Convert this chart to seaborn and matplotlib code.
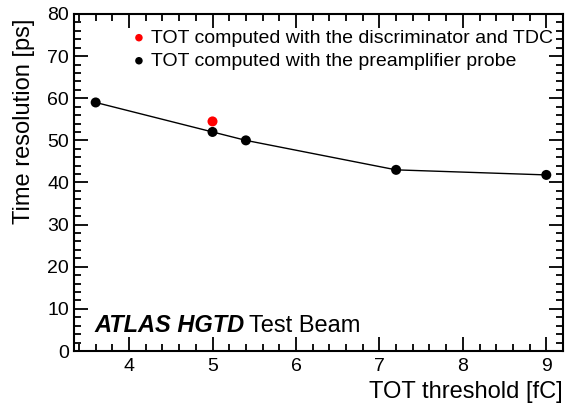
import matplotlib
matplotlib.use("Agg")
import matplotlib.pyplot as plt
import seaborn as sns
import pandas as pd
from matplotlib.ticker import MultipleLocator

# data
thr_probe = [3.6, 5.0, 5.4, 7.2, 9.0]
res_probe = [59.0, 52.0, 50.0, 43.0, 41.8]
thr_tdc = [5.0]
res_tdc = [54.5]

label_tdc = "TOT computed with the discriminator and TDC"
label_probe = "TOT computed with the preamplifier probe"

sns.set_style("ticks")
plt.rcParams["font.family"] = ["Liberation Sans", "DejaVu Sans"]
plt.rcParams.update({"text.color": "black", "axes.labelcolor": "black",
                     "xtick.color": "black", "ytick.color": "black",
                     "axes.edgecolor": "black"})

df_probe = pd.DataFrame({"thr": thr_probe, "res": res_probe})
df_tdc = pd.DataFrame({"thr": thr_tdc, "res": res_tdc})

fig = plt.figure(figsize=(5.66, 4.08), dpi=100)
ax = fig.add_axes([0.1307, 0.1397, 0.864, 0.826])

sns.lineplot(data=df_probe, x="thr", y="res", color="black", lw=1, ax=ax, legend=False)
sns.scatterplot(data=df_probe, x="thr", y="res", color="black", s=52, edgecolor="none",
                ax=ax, label=label_probe, zorder=3)
sns.scatterplot(data=df_tdc, x="thr", y="res", color="red", s=52, edgecolor="none",
                ax=ax, label=label_tdc, zorder=3)

ax.set_xlim(3.34, 9.2)
ax.set_ylim(0, 80)
ax.xaxis.set_major_locator(MultipleLocator(1))
ax.xaxis.set_minor_locator(MultipleLocator(0.2))
ax.yaxis.set_major_locator(MultipleLocator(10))
ax.yaxis.set_minor_locator(MultipleLocator(2))
ax.tick_params(which="both", direction="in", top=True, right=True, labelsize=14, width=1.3)
ax.tick_params(which="major", length=10)
ax.tick_params(which="minor", length=5)
for sp in ax.spines.values():
    sp.set_linewidth(1.5)
ax.tick_params(axis="x", pad=5)
ax.tick_params(axis="y", pad=3.5)

ax.set_xlabel("TOT threshold [fC]", fontsize=17, loc="right")
ax.set_ylabel("Time resolution [ps]", fontsize=17, loc="top")
ax.xaxis.set_label_coords(1.0, -0.088)
ax.yaxis.set_label_coords(-0.08, 0.985)

handles, labels = ax.get_legend_handles_labels()
order = [labels.index(label_tdc), labels.index(label_probe)]
ax.legend([handles[i] for i in order], [labels[i] for i in order], loc="upper left",
          bbox_to_anchor=(0.105, 0.978), frameon=False, fontsize=14, handletextpad=0.3,
          handlelength=0.6, labelspacing=0.28, markerscale=0.75, borderaxespad=0)

ax.text(0.041, 0.056, "ATLAS HGTD", transform=ax.transAxes, fontsize=17,
        fontweight="bold", fontstyle="italic")
ax.text(0.358, 0.056, "Test Beam", transform=ax.transAxes, fontsize=17)

plt.savefig("out.png", dpi=100)
plt.close()
